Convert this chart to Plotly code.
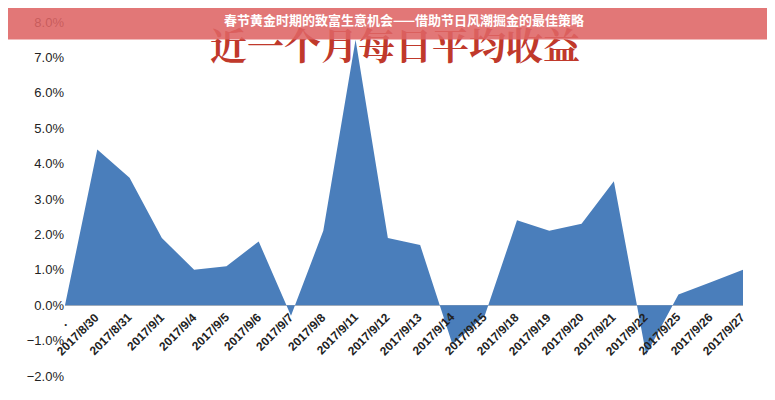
import plotly.graph_objects as go

categories = [".", "2017/8/30", "2017/8/31", "2017/9/1", "2017/9/4", "2017/9/5", "2017/9/6",
              "2017/9/7", "2017/9/8", "2017/9/11", "2017/9/12", "2017/9/13", "2017/9/14",
              "2017/9/15", "2017/9/18", "2017/9/19", "2017/9/20", "2017/9/21", "2017/9/22",
              "2017/9/25", "2017/9/26", "2017/9/27"]
returns = [0.0, 0.044, 0.036, 0.019, 0.010, 0.011, 0.018, -0.003, 0.021, 0.075, 0.019,
           0.017, -0.011, -0.003, 0.024, 0.021, 0.023, 0.035, -0.014, 0.003, 0.0065, 0.010]
title = "春节黄金时期的致富生意机会——借助节日风潮掘金的最佳策略"
bg_title = "近一个月每日平均收益"

fig = go.Figure(go.Scatter(x=categories, y=returns, mode="lines", fill="tozeroy",
                           line=dict(width=0, color="#4a7ebb"), fillcolor="#4a7ebb",
                           hoverinfo="skip"))

ann = [dict(x=c, y=0, xref="x", yref="y", text="<b>" + c + "</b>", showarrow=False, textangle=-45,
            xanchor="right", yanchor="top", xshift=8, yshift=-2,
            font=dict(family="Liberation Sans", size=12, color="#222"))
       for c in categories[1:]]
ann.append(dict(x=categories[0], y=0, text="<b>.</b>", showarrow=False, yanchor="top", yshift=-6,
                font=dict(size=12, color="#222")))
ann.append(dict(x=0.487, y=1 - 22 / 354, xref="paper", yref="paper", text="<b>" + bg_title + "</b>",
                showarrow=False, yanchor="middle",
                font=dict(family="Noto Serif CJK SC, Noto Sans CJK SC", size=37, color="#c0392b")))
ann.append(dict(x=0.5, y=1 + 3 / 354, xref="paper", yref="paper", text="<b>" + title + "</b>",
                showarrow=False, yanchor="middle", width=820, height=38,
                bgcolor="rgba(222,100,100,0.88)",
                font=dict(family="Noto Sans CJK SC", size=13, color="white")))
fig.update_layout(annotations=ann)

fig.update_layout(
    width=775, height=400, margin=dict(l=57, r=40, t=14, b=32),
    paper_bgcolor="white", plot_bgcolor="white", showlegend=False,
    xaxis=dict(type="category", showticklabels=False, showgrid=False, zeroline=False,
               range=[0, len(categories) - 1], automargin=False),
    yaxis=dict(range=[-0.02, 0.08], dtick=0.01, tickformat=".1%", showgrid=False, automargin=False,
               zeroline=True, zerolinecolor="#bbb", zerolinewidth=1, ticks="",
               tickfont=dict(family="Liberation Sans", size=13, color="#222")),
)
fig.write_html("out.html")
